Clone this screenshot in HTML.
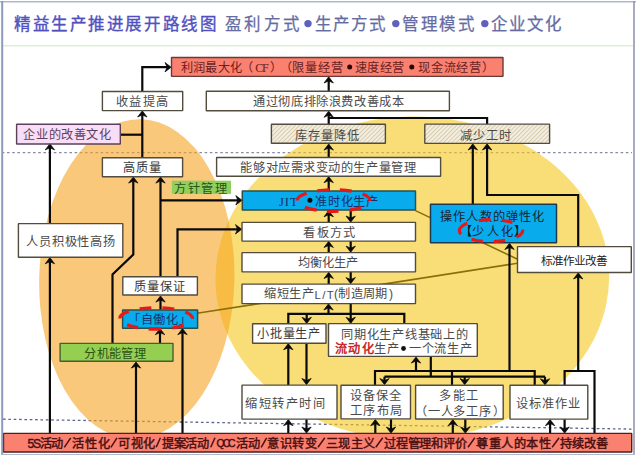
<!DOCTYPE html>
<html lang="zh-CN"><head><meta charset="utf-8"><title>精益生产推进展开路线图</title>
<style>
html,body{margin:0;padding:0;background:#fff;}
body{width:636px;height:455px;overflow:hidden;position:relative;font-family:"Liberation Sans", sans-serif;}
svg{position:absolute;left:0;top:0;}
svg text{font-family:"Liberation Sans", sans-serif;}
</style></head><body>
<svg width="636" height="455" viewBox="0 0 636 455">
<defs>
<pattern id="hatch" width="3" height="3" patternUnits="userSpaceOnUse" patternTransform="rotate(45)"><rect width="3" height="3" fill="#F3EEDF"/><rect width="1" height="3" fill="#D6CCAE"/></pattern>
</defs>
<line x1="3" y1="45.8" x2="633" y2="45.8" stroke="#DDEFD5" stroke-width="1.5"/>
<line x1="3" y1="152.7" x2="632" y2="152.7" stroke="#8A8AA6" stroke-width="1.3" stroke-dasharray="2.6 2.6" stroke-dashoffset="1.2"/>
<line x1="3" y1="419.2" x2="632" y2="429.1" stroke="#5C628E" stroke-width="1.3" stroke-dasharray="2.6 2.75"/>
<ellipse cx="412.3" cy="277.9" rx="196.9" ry="161.5" transform="rotate(-1 412.3 277.9)" fill="#F5C81E" fill-opacity="0.6"/>
<ellipse cx="136.8" cy="279.1" rx="97.6" ry="159.9" transform="rotate(1.5 136.8 279.1)" fill="#F7A321" fill-opacity="0.6"/>
<line x1="415.5" y1="210.6" x2="517.5" y2="259.2" stroke="#8A6E08" stroke-width="1.6"/>
<line x1="197" y1="313.3" x2="517.5" y2="263.2" stroke="#8A6E08" stroke-width="1.6"/>
<path d="M142.30,91.50 L142.30,67.20 L168.50,67.20" fill="none" stroke="#0a0a0a" stroke-width="2.2" stroke-linejoin="miter"/>
<path d="M171.20,67.20 L165.00,71.90 L167.10,67.20 L165.00,62.50 Z" fill="#0a0a0a" stroke="#0a0a0a" stroke-width="0.7" stroke-linejoin="round"/>
<path d="M142.30,157.60 L142.30,113.50" fill="none" stroke="#0a0a0a" stroke-width="2.2" stroke-linejoin="miter"/>
<path d="M142.30,110.80 L147.00,117.00 L142.30,114.90 L137.60,117.00 Z" fill="#0a0a0a" stroke="#0a0a0a" stroke-width="0.7" stroke-linejoin="round"/>
<path d="M120.50,134.70 L142.30,134.70" fill="none" stroke="#0a0a0a" stroke-width="2.2" stroke-linejoin="miter"/>
<path d="M49.90,223.60 L49.90,146.40" fill="none" stroke="#0a0a0a" stroke-width="2.2" stroke-linejoin="miter"/>
<path d="M49.90,143.70 L54.60,149.90 L49.90,147.80 L45.20,149.90 Z" fill="#0a0a0a" stroke="#0a0a0a" stroke-width="0.7" stroke-linejoin="round"/>
<path d="M49.90,433.50 L49.90,260.30" fill="none" stroke="#0a0a0a" stroke-width="2.2" stroke-linejoin="miter"/>
<path d="M49.90,257.60 L54.60,263.80 L49.90,261.70 L45.20,263.80 Z" fill="#0a0a0a" stroke="#0a0a0a" stroke-width="0.7" stroke-linejoin="round"/>
<path d="M328.70,91.30 L328.70,79.50" fill="none" stroke="#0a0a0a" stroke-width="2.2" stroke-linejoin="miter"/>
<path d="M328.70,76.80 L333.40,83.00 L328.70,80.90 L324.00,83.00 Z" fill="#0a0a0a" stroke="#0a0a0a" stroke-width="0.7" stroke-linejoin="round"/>
<path d="M328.70,124.00 L328.70,113.80" fill="none" stroke="#0a0a0a" stroke-width="2.2" stroke-linejoin="miter"/>
<path d="M328.70,111.10 L333.40,117.30 L328.70,115.20 L324.00,117.30 Z" fill="#0a0a0a" stroke="#0a0a0a" stroke-width="0.7" stroke-linejoin="round"/>
<path d="M487.10,124.00 L487.10,118.00 L328.70,118.00" fill="none" stroke="#0a0a0a" stroke-width="2.2" stroke-linejoin="miter"/>
<path d="M328.70,157.50 L328.70,146.60" fill="none" stroke="#0a0a0a" stroke-width="2.2" stroke-linejoin="miter"/>
<path d="M328.70,143.90 L333.40,150.10 L328.70,148.00 L324.00,150.10 Z" fill="#0a0a0a" stroke="#0a0a0a" stroke-width="0.7" stroke-linejoin="round"/>
<path d="M328.70,190.70 L328.70,179.20" fill="none" stroke="#0a0a0a" stroke-width="2.2" stroke-linejoin="miter"/>
<path d="M328.70,176.50 L333.40,182.70 L328.70,180.60 L324.00,182.70 Z" fill="#0a0a0a" stroke="#0a0a0a" stroke-width="0.7" stroke-linejoin="round"/>
<path d="M472.80,204.20 L472.80,146.50" fill="none" stroke="#0a0a0a" stroke-width="2.2" stroke-linejoin="miter"/>
<path d="M472.80,143.80 L477.50,150.00 L472.80,147.90 L468.10,150.00 Z" fill="#0a0a0a" stroke="#0a0a0a" stroke-width="0.7" stroke-linejoin="round"/>
<path d="M578.20,246.50 L578.20,195.00 L487.10,195.00 L487.10,146.50" fill="none" stroke="#0a0a0a" stroke-width="2.2" stroke-linejoin="miter"/>
<path d="M487.10,143.80 L491.80,150.00 L487.10,147.90 L482.40,150.00 Z" fill="#0a0a0a" stroke="#0a0a0a" stroke-width="0.7" stroke-linejoin="round"/>
<path d="M328.70,222.50 L328.70,213.30" fill="none" stroke="#0a0a0a" stroke-width="2.2" stroke-linejoin="miter"/>
<path d="M328.70,210.60 L333.40,216.80 L328.70,214.70 L324.00,216.80 Z" fill="#0a0a0a" stroke="#0a0a0a" stroke-width="0.7" stroke-linejoin="round"/>
<path d="M350.70,210.30 L350.70,219.50" fill="none" stroke="#0a0a0a" stroke-width="2.2" stroke-linejoin="miter"/>
<path d="M350.70,222.20 L346.00,216.00 L350.70,218.10 L355.40,216.00 Z" fill="#0a0a0a" stroke="#0a0a0a" stroke-width="0.7" stroke-linejoin="round"/>
<path d="M328.70,252.60 L328.70,244.00" fill="none" stroke="#0a0a0a" stroke-width="2.2" stroke-linejoin="miter"/>
<path d="M328.70,241.30 L333.40,247.50 L328.70,245.40 L324.00,247.50 Z" fill="#0a0a0a" stroke="#0a0a0a" stroke-width="0.7" stroke-linejoin="round"/>
<path d="M350.70,241.00 L350.70,249.60" fill="none" stroke="#0a0a0a" stroke-width="2.2" stroke-linejoin="miter"/>
<path d="M350.70,252.30 L346.00,246.10 L350.70,248.20 L355.40,246.10 Z" fill="#0a0a0a" stroke="#0a0a0a" stroke-width="0.7" stroke-linejoin="round"/>
<path d="M328.70,284.00 L328.70,275.00" fill="none" stroke="#0a0a0a" stroke-width="2.2" stroke-linejoin="miter"/>
<path d="M328.70,272.30 L333.40,278.50 L328.70,276.40 L324.00,278.50 Z" fill="#0a0a0a" stroke="#0a0a0a" stroke-width="0.7" stroke-linejoin="round"/>
<path d="M350.70,272.00 L350.70,281.00" fill="none" stroke="#0a0a0a" stroke-width="2.2" stroke-linejoin="miter"/>
<path d="M350.70,283.70 L346.00,277.50 L350.70,279.60 L355.40,277.50 Z" fill="#0a0a0a" stroke="#0a0a0a" stroke-width="0.7" stroke-linejoin="round"/>
<path d="M288.30,323.80 L288.30,313.80 L404.30,313.80 L404.30,323.70" fill="none" stroke="#0a0a0a" stroke-width="2.2" stroke-linejoin="miter"/>
<path d="M328.50,313.80 L328.50,306.50" fill="none" stroke="#0a0a0a" stroke-width="2.2" stroke-linejoin="miter"/>
<path d="M328.50,303.80 L333.20,310.00 L328.50,307.90 L323.80,310.00 Z" fill="#0a0a0a" stroke="#0a0a0a" stroke-width="0.7" stroke-linejoin="round"/>
<path d="M306.70,313.80 L306.70,320.80" fill="none" stroke="#0a0a0a" stroke-width="2.2" stroke-linejoin="miter"/>
<path d="M306.70,323.50 L302.00,317.30 L306.70,319.40 L311.40,317.30 Z" fill="#0a0a0a" stroke="#0a0a0a" stroke-width="0.7" stroke-linejoin="round"/>
<path d="M350.70,303.50 L350.70,320.70" fill="none" stroke="#0a0a0a" stroke-width="2.2" stroke-linejoin="miter"/>
<path d="M350.70,323.40 L346.00,317.20 L350.70,319.30 L355.40,317.20 Z" fill="#0a0a0a" stroke="#0a0a0a" stroke-width="0.7" stroke-linejoin="round"/>
<path d="M288.30,385.00 L288.30,346.30" fill="none" stroke="#0a0a0a" stroke-width="2.2" stroke-linejoin="miter"/>
<path d="M288.30,343.60 L293.00,349.80 L288.30,347.70 L283.60,349.80 Z" fill="#0a0a0a" stroke="#0a0a0a" stroke-width="0.7" stroke-linejoin="round"/>
<path d="M306.50,343.30 L306.50,382.00" fill="none" stroke="#0a0a0a" stroke-width="2.2" stroke-linejoin="miter"/>
<path d="M306.50,384.70 L301.80,378.50 L306.50,380.60 L311.20,378.50 Z" fill="#0a0a0a" stroke="#0a0a0a" stroke-width="0.7" stroke-linejoin="round"/>
<path d="M288.30,433.50 L288.30,422.20" fill="none" stroke="#0a0a0a" stroke-width="2.2" stroke-linejoin="miter"/>
<path d="M288.30,419.50 L293.00,425.70 L288.30,423.60 L283.60,425.70 Z" fill="#0a0a0a" stroke="#0a0a0a" stroke-width="0.7" stroke-linejoin="round"/>
<path d="M306.50,419.20 L306.50,430.50" fill="none" stroke="#0a0a0a" stroke-width="2.2" stroke-linejoin="miter"/>
<path d="M306.50,433.20 L301.80,427.00 L306.50,429.10 L311.20,427.00 Z" fill="#0a0a0a" stroke="#0a0a0a" stroke-width="0.7" stroke-linejoin="round"/>
<path d="M375.00,385.00 L375.00,371.00 L534.70,371.00 L534.70,385.00" fill="none" stroke="#0a0a0a" stroke-width="2.2" stroke-linejoin="miter"/>
<path d="M452.00,385.00 L452.00,371.00" fill="none" stroke="#0a0a0a" stroke-width="2.2" stroke-linejoin="miter"/>
<path d="M416.00,371.00 L416.00,359.60" fill="none" stroke="#0a0a0a" stroke-width="2.2" stroke-linejoin="miter"/>
<path d="M416.00,356.90 L420.70,363.10 L416.00,361.00 L411.30,363.10 Z" fill="#0a0a0a" stroke="#0a0a0a" stroke-width="0.7" stroke-linejoin="round"/>
<path d="M509.50,371.00 L509.50,246.00" fill="none" stroke="#0a0a0a" stroke-width="2.2" stroke-linejoin="miter"/>
<path d="M509.50,243.30 L514.20,249.50 L509.50,247.40 L504.80,249.50 Z" fill="#0a0a0a" stroke="#0a0a0a" stroke-width="0.7" stroke-linejoin="round"/>
<path d="M430.80,356.60 L430.80,376.70" fill="none" stroke="#0a0a0a" stroke-width="2.2" stroke-linejoin="miter"/>
<path d="M384.50,376.70 L545.00,376.70" fill="none" stroke="#0a0a0a" stroke-width="2.2" stroke-linejoin="miter"/>
<path d="M384.50,376.70 L384.50,382.00" fill="none" stroke="#0a0a0a" stroke-width="2.2" stroke-linejoin="miter"/>
<path d="M384.50,384.70 L379.80,378.50 L384.50,380.60 L389.20,378.50 Z" fill="#0a0a0a" stroke="#0a0a0a" stroke-width="0.7" stroke-linejoin="round"/>
<path d="M464.70,376.70 L464.70,382.00" fill="none" stroke="#0a0a0a" stroke-width="2.2" stroke-linejoin="miter"/>
<path d="M464.70,384.70 L460.00,378.50 L464.70,380.60 L469.40,378.50 Z" fill="#0a0a0a" stroke="#0a0a0a" stroke-width="0.7" stroke-linejoin="round"/>
<path d="M545.00,376.70 L545.00,382.20" fill="none" stroke="#0a0a0a" stroke-width="2.2" stroke-linejoin="miter"/>
<path d="M545.00,384.90 L540.30,378.70 L545.00,380.80 L549.70,378.70 Z" fill="#0a0a0a" stroke="#0a0a0a" stroke-width="0.7" stroke-linejoin="round"/>
<path d="M375.30,433.50 L375.30,422.20" fill="none" stroke="#0a0a0a" stroke-width="2.2" stroke-linejoin="miter"/>
<path d="M375.30,419.50 L380.00,425.70 L375.30,423.60 L370.60,425.70 Z" fill="#0a0a0a" stroke="#0a0a0a" stroke-width="0.7" stroke-linejoin="round"/>
<path d="M391.00,419.20 L391.00,430.50" fill="none" stroke="#0a0a0a" stroke-width="2.2" stroke-linejoin="miter"/>
<path d="M391.00,433.20 L386.30,427.00 L391.00,429.10 L395.70,427.00 Z" fill="#0a0a0a" stroke="#0a0a0a" stroke-width="0.7" stroke-linejoin="round"/>
<path d="M452.80,433.50 L452.80,422.20" fill="none" stroke="#0a0a0a" stroke-width="2.2" stroke-linejoin="miter"/>
<path d="M452.80,419.50 L457.50,425.70 L452.80,423.60 L448.10,425.70 Z" fill="#0a0a0a" stroke="#0a0a0a" stroke-width="0.7" stroke-linejoin="round"/>
<path d="M465.30,419.20 L465.30,430.50" fill="none" stroke="#0a0a0a" stroke-width="2.2" stroke-linejoin="miter"/>
<path d="M465.30,433.20 L460.60,427.00 L465.30,429.10 L470.00,427.00 Z" fill="#0a0a0a" stroke="#0a0a0a" stroke-width="0.7" stroke-linejoin="round"/>
<path d="M550.10,433.50 L550.10,422.20" fill="none" stroke="#0a0a0a" stroke-width="2.2" stroke-linejoin="miter"/>
<path d="M550.10,419.50 L554.80,425.70 L550.10,423.60 L545.40,425.70 Z" fill="#0a0a0a" stroke="#0a0a0a" stroke-width="0.7" stroke-linejoin="round"/>
<path d="M564.60,419.20 L564.60,430.50" fill="none" stroke="#0a0a0a" stroke-width="2.2" stroke-linejoin="miter"/>
<path d="M564.60,433.20 L559.90,427.00 L564.60,429.10 L569.30,427.00 Z" fill="#0a0a0a" stroke="#0a0a0a" stroke-width="0.7" stroke-linejoin="round"/>
<path d="M594.50,433.50 L594.50,371.00 L564.60,371.00 L564.60,385.20" fill="none" stroke="#0a0a0a" stroke-width="2.2" stroke-linejoin="miter"/>
<path d="M578.20,371.00 L578.20,275.50" fill="none" stroke="#0a0a0a" stroke-width="2.2" stroke-linejoin="miter"/>
<path d="M578.20,272.80 L582.90,279.00 L578.20,276.90 L573.50,279.00 Z" fill="#0a0a0a" stroke="#0a0a0a" stroke-width="0.7" stroke-linejoin="round"/>
<path d="M136.00,433.50 L136.00,364.60" fill="none" stroke="#0a0a0a" stroke-width="2.2" stroke-linejoin="miter"/>
<path d="M136.00,361.90 L140.70,368.10 L136.00,366.00 L131.30,368.10 Z" fill="#0a0a0a" stroke="#0a0a0a" stroke-width="0.7" stroke-linejoin="round"/>
<path d="M160.00,343.30 L160.00,331.20" fill="none" stroke="#0a0a0a" stroke-width="2.2" stroke-linejoin="miter"/>
<path d="M160.00,328.50 L164.70,334.70 L160.00,332.60 L155.30,334.70 Z" fill="#0a0a0a" stroke="#0a0a0a" stroke-width="0.7" stroke-linejoin="round"/>
<path d="M182.50,433.50 L182.50,331.20" fill="none" stroke="#0a0a0a" stroke-width="2.2" stroke-linejoin="miter"/>
<path d="M182.50,328.50 L187.20,334.70 L182.50,332.60 L177.80,334.70 Z" fill="#0a0a0a" stroke="#0a0a0a" stroke-width="0.7" stroke-linejoin="round"/>
<path d="M160.50,309.70 L160.50,298.60" fill="none" stroke="#0a0a0a" stroke-width="2.2" stroke-linejoin="miter"/>
<path d="M160.50,295.90 L165.20,302.10 L160.50,300.00 L155.80,302.10 Z" fill="#0a0a0a" stroke="#0a0a0a" stroke-width="0.7" stroke-linejoin="round"/>
<path d="M160.50,276.70 L160.50,179.60" fill="none" stroke="#0a0a0a" stroke-width="2.2" stroke-linejoin="miter"/>
<path d="M160.50,176.90 L165.20,183.10 L160.50,181.00 L155.80,183.10 Z" fill="#0a0a0a" stroke="#0a0a0a" stroke-width="0.7" stroke-linejoin="round"/>
<path d="M160.50,200.30 L239.30,200.30" fill="none" stroke="#0a0a0a" stroke-width="2.2" stroke-linejoin="miter"/>
<path d="M242.00,200.30 L235.80,205.00 L237.90,200.30 L235.80,195.60 Z" fill="#0a0a0a" stroke="#0a0a0a" stroke-width="0.7" stroke-linejoin="round"/>
<path d="M177.50,276.70 L177.50,229.30 L239.00,229.30" fill="none" stroke="#0a0a0a" stroke-width="2.2" stroke-linejoin="miter"/>
<path d="M241.70,229.30 L235.50,234.00 L237.60,229.30 L235.50,224.60 Z" fill="#0a0a0a" stroke="#0a0a0a" stroke-width="0.7" stroke-linejoin="round"/>
<path d="M112.50,343.30 L112.50,274.50 L133.30,254.50 L133.30,179.60" fill="none" stroke="#0a0a0a" stroke-width="2.2" stroke-linejoin="miter"/>
<path d="M133.30,176.90 L138.00,183.10 L133.30,181.00 L128.60,183.10 Z" fill="#0a0a0a" stroke="#0a0a0a" stroke-width="0.7" stroke-linejoin="round"/>
</svg>
<svg width="636" height="455" viewBox="0 0 636 455">
<rect x="171.5" y="57.5" width="331.50" height="18.90" fill="#FA8070" stroke="#6A3A36" stroke-width="1.4" rx="0.3" />
<text x="181.29" y="67.90" font-size="12.2" fill="#6A1E1E" dominant-baseline="central" textLength="60.40" lengthAdjust="spacing" >利润最大化</text>
<text x="241.34" y="67.90" font-size="12.2" fill="#6A1E1E" dominant-baseline="central"  >（</text>
<text x="255.32" y="67.90" font-size="12.2" fill="#6A1E1E" dominant-baseline="central" textLength="13.36" lengthAdjust="spacing" style="font-family:Liberation Serif,serif">CF</text>
<text x="269.76" y="67.90" font-size="12.2" fill="#6A1E1E" dominant-baseline="central"  >）</text>
<text x="280.30" y="67.90" font-size="12.2" fill="#6A1E1E" dominant-baseline="central"  >（</text>
<text x="292.47" y="67.90" font-size="12.2" fill="#6A1E1E" dominant-baseline="central" textLength="50.17" lengthAdjust="spacing" >限量经营</text>
<circle cx="349.7" cy="67" r="2.5" fill="#2a0808"/>
<text x="355.39" y="67.90" font-size="12.2" fill="#6A1E1E" dominant-baseline="central" textLength="48.31" lengthAdjust="spacing" >速度经营</text>
<circle cx="411.8" cy="67" r="2.5" fill="#2a0808"/>
<text x="418.45" y="67.90" font-size="12.2" fill="#6A1E1E" dominant-baseline="central" textLength="62.20" lengthAdjust="spacing" >现金流经营</text>
<text x="482.21" y="67.90" font-size="12.2" fill="#6A1E1E" dominant-baseline="central"  >）</text>
<rect x="102.4" y="91.5" width="80.30" height="19.10" fill="#fff" stroke="#524C3E" stroke-width="1.4" rx="0.3" />
<text x="116.39" y="102.30" font-size="12.2" fill="#4A4A4A" dominant-baseline="central" textLength="51.20" lengthAdjust="spacing" >收益提高</text>
<rect x="206.3" y="91.3" width="243.10" height="19.50" fill="#fff" stroke="#524C3E" stroke-width="1.4" rx="0.3" />
<text x="253.29" y="102.30" font-size="12.2" fill="#4A4A4A" dominant-baseline="central" textLength="150.38" lengthAdjust="spacing" >通过彻底排除浪费改善成本</text>
<rect x="16.6" y="124.3" width="103.70" height="19.70" fill="#F8DDF6" stroke="#5A405A" stroke-width="1.4" rx="0.3" />
<text x="23.44" y="135.40" font-size="12.2" fill="#5E3E5E" dominant-baseline="central" textLength="87.27" lengthAdjust="spacing" >企业的改善文化</text>
<rect x="271.4" y="124.2" width="114.00" height="19.10" fill="url(#hatch)" stroke="#524C3E" stroke-width="1.4" rx="0.3" />
<text x="295.43" y="135.50" font-size="12.2" fill="#4a4a44" dominant-baseline="central" textLength="63.25" lengthAdjust="spacing" >库存量降低</text>
<rect x="424.8" y="124.1" width="124.80" height="19.30" fill="url(#hatch)" stroke="#524C3E" stroke-width="1.4" rx="0.3" />
<text x="460.47" y="135.90" font-size="12.2" fill="#4a4a44" dominant-baseline="central" textLength="50.21" lengthAdjust="spacing" >减少工时</text>
<rect x="102.4" y="157.8" width="80.20" height="18.90" fill="#fff" stroke="#524C3E" stroke-width="1.4" rx="0.3" />
<text x="123.43" y="167.90" font-size="12.2" fill="#3a3a3a" dominant-baseline="central" textLength="37.23" lengthAdjust="spacing" >高质量</text>
<rect x="216.6" y="157.5" width="224.00" height="18.70" fill="#fff" stroke="#524C3E" stroke-width="1.4" rx="0.3" />
<text x="240.47" y="168.40" font-size="12.2" fill="#4A4A4A" dominant-baseline="central" textLength="175.25" lengthAdjust="spacing" >能够对应需求变动的生产量管理</text>
<rect x="171.9" y="180.7" width="59.1" height="13.2" fill="#90CF5E"/>
<text x="174.46" y="188.70" font-size="12.2" fill="#2A5214" dominant-baseline="central" textLength="52.21" lengthAdjust="spacing" >方针管理</text>
<rect x="242.3" y="190.9" width="173.20" height="19.20" fill="#08ABEB" stroke="#2A5048" stroke-width="1.5" rx="0.3" />
<rect x="18.4" y="223.6" width="104.40" height="33.70" fill="#fff" stroke="#524C3E" stroke-width="1.4" rx="0.3" />
<text x="26.40" y="242.20" font-size="12.2" fill="#4A4A4A" dominant-baseline="central" textLength="88.32" lengthAdjust="spacing" >人员积极性高扬</text>
<rect x="430.5" y="204.2" width="126.00" height="38.60" fill="#08ABEB" stroke="#1E3A50" stroke-width="1.5" rx="0.3" />
<text x="440.39" y="216.90" font-size="12.2" fill="#1A2438" dominant-baseline="central" textLength="103.30" lengthAdjust="spacing" >操作人数的弹性化</text>
<text x="459.95" y="232.20" font-size="12.2" fill="#0A1020" dominant-baseline="central"  >【</text>
<text x="472.46" y="232.20" font-size="12.2" fill="#1A2438" dominant-baseline="central" textLength="40.22" lengthAdjust="spacing" >少人化</text>
<text x="513.57" y="232.20" font-size="12.2" fill="#0A1020" dominant-baseline="central"  >】</text>
<rect x="242" y="222.4" width="173.50" height="18.70" fill="#fff" stroke="#524C3E" stroke-width="1.4" rx="0.3" />
<text x="303.43" y="232.60" font-size="12.2" fill="#4A4A4A" dominant-baseline="central" textLength="51.22" lengthAdjust="spacing" >看板方式</text>
<rect x="517.5" y="246.6" width="113.80" height="25.90" fill="#fff" stroke="#524C3E" stroke-width="1.4" rx="0.3" />
<text x="541.34" y="260.50" font-size="11.6" fill="#222" dominant-baseline="central" textLength="66.21" lengthAdjust="spacing" >标准作业改善</text>
<rect x="242" y="252.6" width="173.50" height="19.30" fill="#fff" stroke="#524C3E" stroke-width="1.4" rx="0.3" />
<text x="298.29" y="263.20" font-size="12.2" fill="#4A4A4A" dominant-baseline="central" textLength="59.37" lengthAdjust="spacing" >均衡化生产</text>
<rect x="122.8" y="276.8" width="74.60" height="18.20" fill="#fff" stroke="#524C3E" stroke-width="1.4" rx="0.3" />
<text x="134.40" y="287.10" font-size="12.2" fill="#3a3a3a" dominant-baseline="central" textLength="50.29" lengthAdjust="spacing" >质量保证</text>
<rect x="242" y="284.1" width="173.50" height="19.50" fill="#fff" stroke="#524C3E" stroke-width="1.4" rx="0.3" />
<text x="264.29" y="293.80" font-size="12.2" fill="#4A4A4A" dominant-baseline="central" textLength="49.37" lengthAdjust="spacing" >缩短生产</text>
<text x="314.47" y="295.00" font-size="11.4" fill="#4A4A4A" dominant-baseline="central" textLength="19.16" lengthAdjust="spacing" >L/T</text>
<text x="333.95" y="293.80" font-size="12.2" fill="#4A4A4A" dominant-baseline="central"  >(</text>
<text x="338.46" y="293.80" font-size="12.2" fill="#4A4A4A" dominant-baseline="central" textLength="48.25" lengthAdjust="spacing" >制造周期</text>
<text x="388.95" y="293.80" font-size="12.2" fill="#4A4A4A" dominant-baseline="central"  >)</text>
<rect x="122.6" y="310.1" width="75.00" height="18.20" fill="#08ABEB" stroke="#2A5048" stroke-width="1.5" rx="0.3" />
<text x="127.99" y="319.60" font-size="12.2" fill="#1A3470" dominant-baseline="central"  >「</text>
<text x="140.52" y="319.60" font-size="12.2" fill="#1A3470" dominant-baseline="central" textLength="37.15" lengthAdjust="spacing" >自働化</text>
<text x="179.17" y="319.60" font-size="12.2" fill="#1A3470" dominant-baseline="central"  >」</text>
<rect x="252.6" y="323.8" width="73.40" height="19.50" fill="#fff" stroke="#524C3E" stroke-width="1.4" rx="0.3" />
<text x="257.41" y="333.80" font-size="12.2" fill="#3a3a3a" dominant-baseline="central" textLength="62.28" lengthAdjust="spacing" >小批量生产</text>
<rect x="328.5" y="323.6" width="148.80" height="32.80" fill="#fff" stroke="#524C3E" stroke-width="1.4" rx="0.3" />
<text x="341.44" y="334.90" font-size="12.2" fill="#4A4A4A" dominant-baseline="central" textLength="126.11" lengthAdjust="spacing" >同期化生产线基础上的</text>
<text x="335.31" y="349.40" font-size="12.2" fill="#C82828" dominant-baseline="central" textLength="38.32" lengthAdjust="spacing" font-weight="bold">流动化</text>
<text x="374.44" y="349.40" font-size="12.2" fill="#4A4A4A" dominant-baseline="central" textLength="24.23" lengthAdjust="spacing" >生产</text>
<circle cx="403.5" cy="348.5" r="2.4" fill="#111"/>
<text x="409.34" y="349.40" font-size="12.2" fill="#4A4A4A" dominant-baseline="central" textLength="62.30" lengthAdjust="spacing" >一个流生产</text>
<rect x="60.1" y="343.4" width="112.90" height="17.90" fill="#94CF52" stroke="#45602E" stroke-width="1.4" rx="0.3" />
<text x="84.41" y="354.10" font-size="12.2" fill="#2A5214" dominant-baseline="central" textLength="61.27" lengthAdjust="spacing" >分机能管理</text>
<rect x="242" y="385.1" width="95.00" height="34.00" fill="#fff" stroke="#524C3E" stroke-width="1.4" rx="0.3" />
<text x="245.36" y="404.10" font-size="12.2" fill="#4A4A4A" dominant-baseline="central" textLength="79.20" lengthAdjust="spacing" >缩短转产时间</text>
<rect x="341" y="385.3" width="69.50" height="33.60" fill="#fff" stroke="#524C3E" stroke-width="1.4" rx="0.3" />
<text x="350.41" y="396.40" font-size="12.2" fill="#4A4A4A" dominant-baseline="central" textLength="50.29" lengthAdjust="spacing" >设备保全</text>
<text x="350.41" y="410.70" font-size="12.2" fill="#4A4A4A" dominant-baseline="central" textLength="51.19" lengthAdjust="spacing" >工序布局</text>
<rect x="415.6" y="385.2" width="87.60" height="33.80" fill="#fff" stroke="#524C3E" stroke-width="1.4" rx="0.3" />
<text x="439.42" y="396.30" font-size="12.2" fill="#4A4A4A" dominant-baseline="central" textLength="38.22" lengthAdjust="spacing" >多能工</text>
<text x="414.70" y="411.60" font-size="12.2" fill="#4A4A4A" dominant-baseline="central"  >（</text>
<text x="428.32" y="411.60" font-size="12.2" fill="#4A4A4A" dominant-baseline="central" textLength="62.31" lengthAdjust="spacing" >一人多工序</text>
<text x="492.67" y="411.60" font-size="12.2" fill="#4A4A4A" dominant-baseline="central"  >）</text>
<rect x="510" y="385.2" width="77.80" height="33.90" fill="#fff" stroke="#524C3E" stroke-width="1.4" rx="0.3" />
<text x="516.45" y="403.70" font-size="12.2" fill="#4A4A4A" dominant-baseline="central" textLength="63.19" lengthAdjust="spacing" >设标准作业</text>
<rect x="3.5" y="433.4" width="628.20" height="18.60" fill="#FA8070" stroke="#4A2020" stroke-width="1.4" rx="0.3" />
<text x="27.39" y="443.70" font-size="12.2" fill="#4A1010" dominant-baseline="central" textLength="35.29" lengthAdjust="spacing" stroke="#4A1010" stroke-width="0.45">5S活动</text>
<text x="72.32" y="443.70" font-size="12.2" fill="#4A1010" dominant-baseline="central" textLength="37.32" lengthAdjust="spacing" stroke="#4A1010" stroke-width="0.45">活性化</text>
<text x="118.35" y="443.70" font-size="12.2" fill="#4A1010" dominant-baseline="central" textLength="36.32" lengthAdjust="spacing" stroke="#4A1010" stroke-width="0.45">可视化</text>
<text x="162.29" y="443.70" font-size="12.2" fill="#4A1010" dominant-baseline="central" textLength="46.43" lengthAdjust="spacing" stroke="#4A1010" stroke-width="0.45">提案活动</text>
<text x="216.62" y="443.70" font-size="10.4" fill="#4A1010" dominant-baseline="central" textLength="19.02" lengthAdjust="spacing" stroke="#4A1010" stroke-width="0.45">QCC</text>
<text x="235.91" y="443.70" font-size="12.2" fill="#4A1010" dominant-baseline="central" textLength="23.94" lengthAdjust="spacing" stroke="#4A1010" stroke-width="0.45">活动</text>
<text x="267.41" y="443.70" font-size="12.2" fill="#4A1010" dominant-baseline="central" textLength="49.24" lengthAdjust="spacing" stroke="#4A1010" stroke-width="0.45">意识转变</text>
<text x="326.33" y="443.70" font-size="12.2" fill="#4A1010" dominant-baseline="central" textLength="48.30" lengthAdjust="spacing" stroke="#4A1010" stroke-width="0.45">三现主义</text>
<text x="384.32" y="443.70" font-size="12.2" fill="#4A1010" dominant-baseline="central" textLength="82.33" lengthAdjust="spacing" stroke="#4A1010" stroke-width="0.45">过程管理和评价</text>
<text x="476.33" y="443.70" font-size="12.2" fill="#4A1010" dominant-baseline="central" textLength="74.34" lengthAdjust="spacing" stroke="#4A1010" stroke-width="0.45">尊重人的本性</text>
<text x="560.36" y="443.70" font-size="12.2" fill="#4A1010" dominant-baseline="central" textLength="47.27" lengthAdjust="spacing" stroke="#4A1010" stroke-width="0.45">持续改善</text>
<text x="279" y="202.4" font-size="12.6" fill="#14306A" dominant-baseline="central" style="font-family:Liberation Serif,serif" textLength="18.6" lengthAdjust="spacing">JIT</text>
<circle cx="309.9" cy="200.2" r="2.5" fill="#0a0a0a"/>
<text x="315.46" y="201.60" font-size="12.2" fill="#14306A" dominant-baseline="central" textLength="62.20" lengthAdjust="spacing" >准时化生产</text>
<path d="M362.68,194.08 A36.3,10.8 0 0 1 369.78,200.88 M361.02,207.54 A36.3,10.8 0 0 1 349.81,210.15 M338.55,211.19 A36.3,10.8 0 0 1 326.82,211.12 M316.68,210.07 A36.3,10.8 0 0 1 304.90,207.15 M297.20,200.50 A36.3,10.8 0 0 1 306.52,193.27 M317.30,190.83 A36.3,10.8 0 0 1 329.08,189.78 M339.80,189.86 A36.3,10.8 0 0 1 351.65,191.15" fill="none" stroke="#E41A1A" stroke-width="3.2" stroke-linecap="butt"/>
<path d="M522.48,229.64 A31.6,11 0 0 1 516.69,237.00 M505.10,240.44 A31.6,11 0 0 1 493.92,241.55 M482.82,241.23 A31.6,11 0 0 1 471.55,239.27 M461.00,234.05 A31.6,11 0 0 1 467.37,223.30 M478.65,220.47 A31.6,11 0 0 1 490.45,219.60 M501.60,220.24 A31.6,11 0 0 1 512.47,222.53" fill="none" stroke="#E41A1A" stroke-width="3.2" stroke-linecap="butt"/>
<path d="M185.28,312.04 A36.3,10.7 0 0 1 192.38,318.77 M183.62,325.38 A36.3,10.7 0 0 1 172.41,327.96 M161.15,329.00 A36.3,10.7 0 0 1 148.55,328.87 M137.95,327.67 A36.3,10.7 0 0 1 127.11,324.84 M119.80,318.40 A36.3,10.7 0 0 1 128.70,311.38 M139.62,308.87 A36.3,10.7 0 0 1 151.36,307.79 M162.40,307.86 A36.3,10.7 0 0 1 174.25,309.13" fill="none" stroke="#E41A1A" stroke-width="3.2" stroke-linecap="butt"/>
<line x1="64.30" y1="447.3" x2="70.70" y2="437.8" stroke="#4A1010" stroke-width="1.5"/>
<line x1="110.90" y1="447.3" x2="117.00" y2="437.8" stroke="#4A1010" stroke-width="1.5"/>
<line x1="156.20" y1="447.3" x2="160.40" y2="437.8" stroke="#4A1010" stroke-width="1.5"/>
<line x1="210.70" y1="447.3" x2="215.00" y2="437.8" stroke="#4A1010" stroke-width="1.5"/>
<line x1="261.20" y1="447.3" x2="266.60" y2="437.8" stroke="#4A1010" stroke-width="1.5"/>
<line x1="318.00" y1="447.3" x2="324.80" y2="437.8" stroke="#4A1010" stroke-width="1.5"/>
<line x1="375.80" y1="447.3" x2="382.70" y2="437.8" stroke="#4A1010" stroke-width="1.5"/>
<line x1="468.00" y1="447.3" x2="474.80" y2="437.8" stroke="#4A1010" stroke-width="1.5"/>
<line x1="552.20" y1="447.3" x2="559.10" y2="437.8" stroke="#4A1010" stroke-width="1.5"/>
<text x="14.07" y="24.10" font-size="16.5" fill="#5050C0" dominant-baseline="central" textLength="202.60" lengthAdjust="spacing" stroke="#5050C0" stroke-width="0.35">精益生产推进展开路线图</text>
<text x="225.19" y="24.10" font-size="16.5" fill="#666CA2" dominant-baseline="central" textLength="74.57" lengthAdjust="spacing" stroke="#666CA2" stroke-width="0.25">盈利方式</text>
<circle cx="308" cy="23.6" r="3.7" fill="#6060BE"/>
<text x="315.24" y="24.10" font-size="16.5" fill="#666CA2" dominant-baseline="central" textLength="70.55" lengthAdjust="spacing" stroke="#666CA2" stroke-width="0.25">生产方式</text>
<circle cx="395.8" cy="23.6" r="3.7" fill="#6060BE"/>
<text x="402.24" y="24.10" font-size="16.5" fill="#666CA2" dominant-baseline="central" textLength="72.54" lengthAdjust="spacing" stroke="#666CA2" stroke-width="0.25">管理模式</text>
<circle cx="484.8" cy="23.6" r="3.7" fill="#6060BE"/>
<text x="491.23" y="24.10" font-size="16.5" fill="#666CA2" dominant-baseline="central" textLength="70.62" lengthAdjust="spacing" stroke="#666CA2" stroke-width="0.25">企业文化</text>
<line x1="0" y1="1.8" x2="636" y2="1.8" stroke="#ABB8CF" stroke-width="1.5"/>
<line x1="2.2" y1="1" x2="2.2" y2="455" stroke="#8C9BBB" stroke-width="2"/>
<line x1="634" y1="1" x2="634" y2="455" stroke="#8890A8" stroke-width="1.5"/>
<line x1="2" y1="454.5" x2="635" y2="454.5" stroke="#AEBAD0" stroke-width="1"/>
</svg>
</body></html>
